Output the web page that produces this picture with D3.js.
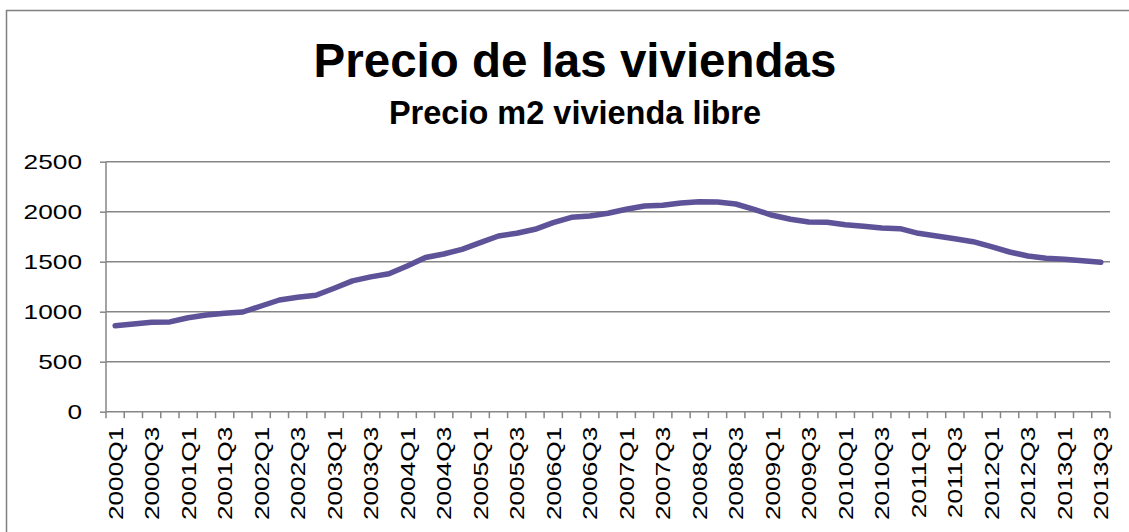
<!DOCTYPE html>
<html>
<head>
<meta charset="utf-8">
<script src="https://cdn.jsdelivr.net/npm/d3@7/dist/d3.min.js"></script>
<style>
  body { margin: 0; background: #fff; }
  svg text { font-family: "Liberation Sans", Arial, sans-serif; fill: #000; }
</style>
</head>
<body>
<div id="chart"></div>
<script>
let titulo = "Precio de las viviendas";
let subtitulo = "Precio m2 vivienda libre";

let trimestres = [
  "2000Q1","2000Q2","2000Q3","2000Q4","2001Q1","2001Q2","2001Q3","2001Q4",
  "2002Q1","2002Q2","2002Q3","2002Q4","2003Q1","2003Q2","2003Q3","2003Q4",
  "2004Q1","2004Q2","2004Q3","2004Q4","2005Q1","2005Q2","2005Q3","2005Q4",
  "2006Q1","2006Q2","2006Q3","2006Q4","2007Q1","2007Q2","2007Q3","2007Q4",
  "2008Q1","2008Q2","2008Q3","2008Q4","2009Q1","2009Q2","2009Q3","2009Q4",
  "2010Q1","2010Q2","2010Q3","2010Q4","2011Q1","2011Q2","2011Q3","2011Q4",
  "2012Q1","2012Q2","2012Q3","2012Q4","2013Q1","2013Q2","2013Q3"
];

// precio m2 (euros)
let precio = [
  860, 877, 895, 898, 940, 967, 984, 997,
  1057, 1117, 1144, 1164, 1234, 1308, 1348, 1380,
  1457, 1542, 1577, 1624, 1690, 1757, 1784, 1824,
  1890, 1944, 1957, 1984, 2024, 2057, 2064, 2088,
  2100, 2097, 2077, 2024, 1964, 1924, 1897, 1895,
  1870, 1854, 1837, 1830, 1784, 1757, 1730, 1700,
  1650, 1597, 1557, 1534, 1524, 1510, 1495
];

let y_ticks = [0, 500, 1000, 1500, 2000, 2500];
// only every other quarter gets a label
let x_labels = trimestres.filter(function(d, i){ return i % 2 === 0; });

let w = 1129, h = 532;
let m_left = 106, m_right = 1110, m_top = 161.7, m_bottom = 411.7;
let grid_color = "#868686";
let stretch = 1.25;   // axis labels in the original look stretched along the text

let svg = d3.select("#chart").append("svg")
    .attr("width", w)
    .attr("height", h);

// chart frame (runs past the right/bottom edge)
svg.append("rect")
    .attr("x", 6.5).attr("y", 10.5)
    .attr("width", 1200).attr("height", 600)
    .attr("fill", "none")
    .attr("stroke", "#7f7f7f")
    .attr("stroke-width", 1.5);

svg.append("text")
    .attr("x", 575).attr("y", 77)
    .attr("text-anchor", "middle")
    .style("font-size", "47.5px")
    .style("font-weight", "bold")
    .text(titulo);

svg.append("text")
    .attr("x", 575).attr("y", 124)
    .attr("text-anchor", "middle")
    .style("font-size", "32.5px")
    .style("font-weight", "bold")
    .text(subtitulo);

let x = d3.scaleBand().domain(trimestres).range([m_left, m_right]);
let y = d3.scaleLinear().domain([0, 2500]).range([m_bottom, m_top]);

// gridlines
svg.append("g").selectAll("line")
    .data(y_ticks.filter(function(d){ return d > 0; }))
    .enter().append("line")
    .attr("x1", m_left).attr("x2", m_right)
    .attr("y1", function(d){ return y(d); })
    .attr("y2", function(d){ return y(d); })
    .attr("stroke", grid_color)
    .attr("stroke-width", 1.5);

// y axis
let y_axis = svg.append("g")
    .attr("transform", "translate(" + m_left + ",0)")
    .call(d3.axisLeft(y).tickValues(y_ticks).tickFormat(d3.format("d")).tickSize(6));
y_axis.selectAll("line").attr("stroke", grid_color).attr("stroke-width", 1.5);
y_axis.select(".domain").attr("stroke", grid_color).attr("stroke-width", 1.5)
    .attr("d", "M0," + m_top + "V" + m_bottom);
y_axis.selectAll("text")
    .attr("x", 0)
    .attr("transform", "translate(-24,0)scale(" + stretch + ",1)")
    .style("font-size", "21px")
    .attr("font-family", null);

// x axis line + ticks at category boundaries
svg.append("line")
    .attr("x1", m_left).attr("x2", m_right)
    .attr("y1", m_bottom).attr("y2", m_bottom)
    .attr("stroke", grid_color).attr("stroke-width", 1.5);

let bounds = trimestres.map(function(d){ return x(d); }).concat([m_right]);
svg.append("g").selectAll("line")
    .data(bounds)
    .enter().append("line")
    .attr("x1", function(d){ return d; })
    .attr("x2", function(d){ return d; })
    .attr("y1", m_bottom).attr("y2", m_bottom + 6.5)
    .attr("stroke", grid_color).attr("stroke-width", 1.5);

svg.append("g").selectAll("text")
    .data(x_labels)
    .enter().append("text")
    .attr("transform", function(d){
        return "translate(" + (x(d) + x.bandwidth() / 2) + "," + (m_bottom + 15) + ")rotate(-90)scale(" + stretch + ",1)";
    })
    .attr("text-anchor", "end")
    .attr("dy", "0.36em")
    .style("font-size", "21px")
    .text(function(d){ return d; });

let line = d3.line()
    .x(function(d, i){ return x(trimestres[i]) + x.bandwidth() / 2; })
    .y(function(d){ return y(d); });

svg.append("path")
    .datum(precio)
    .attr("d", line)
    .attr("fill", "none")
    .attr("stroke", "#5e5399")
    .attr("stroke-width", 5.5)
    .attr("stroke-linecap", "round")
    .attr("stroke-linejoin", "round");
</script>
</body>
</html>
